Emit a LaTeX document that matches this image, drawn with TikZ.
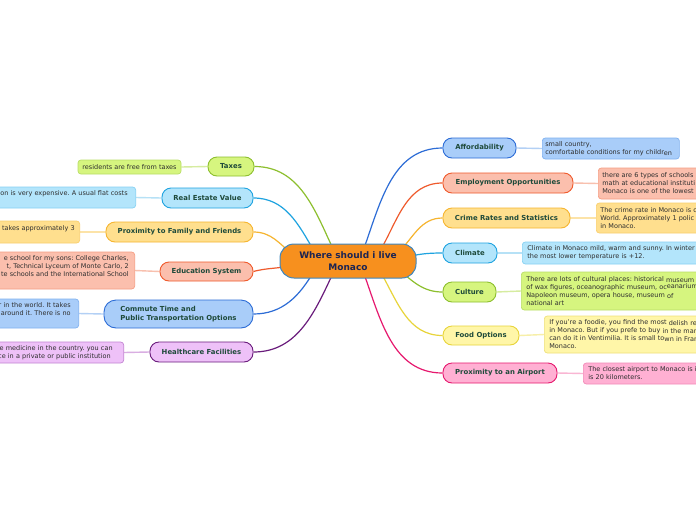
\documentclass[tikz,border=0pt]{standalone}
\usepackage{fontspec}
\setmainfont{DejaVu Sans}
\usetikzlibrary{backgrounds,calc}
\frenchspacing
\definecolor{topictext}{HTML}{1E4A3A}
\definecolor{dettext}{HTML}{2E2E2E}
\definecolor{navy}{HTML}{1C2452}
\definecolor{cFill}{HTML}{F7901E}
\definecolor{cLine}{HTML}{3E86BE}
\definecolor{gFill}{HTML}{D6F57F}
\definecolor{gLine}{HTML}{8DBF2E}
\definecolor{gPale}{HTML}{B9DE66}
\definecolor{gLink}{HTML}{D6ECA0}
\definecolor{lbFill}{HTML}{B3E5FB}
\definecolor{lbLine}{HTML}{1EA3E0}
\definecolor{lbPale}{HTML}{86D1F3}
\definecolor{lbLink}{HTML}{B6E1F6}
\definecolor{yFill}{HTML}{FFDF8E}
\definecolor{yLine}{HTML}{F6B530}
\definecolor{yPale}{HTML}{F9CF6E}
\definecolor{yLink}{HTML}{FCE3A8}
\definecolor{sFill}{HTML}{FBBFAD}
\definecolor{sLine}{HTML}{EF5A2C}
\definecolor{sPale}{HTML}{F59E84}
\definecolor{sLink}{HTML}{F8C0AE}
\definecolor{bFill}{HTML}{A9CDF9}
\definecolor{bLine}{HTML}{2C6CD6}
\definecolor{bPale}{HTML}{7FB1F0}
\definecolor{bLink}{HTML}{B3D0F5}
\definecolor{pFill}{HTML}{EEC1F8}
\definecolor{pLine}{HTML}{6A1C7C}
\definecolor{pPale}{HTML}{C283D2}
\definecolor{pLink}{HTML}{D9AEE2}
\definecolor{fyFill}{HTML}{FFF6A8}
\definecolor{fyLine}{HTML}{E8D43A}
\definecolor{fyPale}{HTML}{EEE07A}
\definecolor{fyLink}{HTML}{F7EFA8}
\definecolor{kFill}{HTML}{FFB0D3}
\definecolor{kLine}{HTML}{E6186E}
\definecolor{kPale}{HTML}{F28AB8}
\definecolor{kLink}{HTML}{F9B6D3}
\begin{document}
\begin{tikzpicture}[x=1pt,y=1pt,
 topic/.style={draw, line width=0.9pt, rounded corners=9pt, inner sep=0pt, align=center, text=topictext, font=\fontsize{6.9}{8.3}\selectfont\bfseries},
 detail/.style={draw, line width=0.7pt, rounded corners=3pt, inner ysep=0pt, text=dettext, font=\fontsize{6.5}{8}\selectfont},
 ldet/.style={detail, anchor=east, align=right, text width=240pt},
 rdet/.style={detail, anchor=west, align=left, text width=240pt},
 link/.style={line width=1.2pt},
 sub/.style={line width=1.4pt}]
\useasboundingbox (0,0) rectangle (696,-520);
\clip (0,0) rectangle (696,-520);
% centre
\node[draw=cLine, fill=cFill, line width=1pt, rounded corners=14pt, minimum width=136pt, minimum height=34pt, inner sep=0pt, align=center, text=navy, font=\fontsize{9}{11.5}\selectfont\bfseries] (c) at (348,-261) {Where should i live\\Monaco};
% left topics
\node[topic, fill=gFill, draw=gLine, minimum width=46pt, minimum height=19pt] (taxes) at (231,-166.5) {Taxes};
\node[topic, fill=lbFill, draw=lbLine, minimum width=91pt, minimum height=20pt] (real) at (207.5,-198) {Real Estate Value};
\node[topic, fill=yFill, draw=yLine, minimum width=147pt, minimum height=20pt] (prox) at (179.5,-232) {Proximity to Family and Friends};
\node[topic, fill=sFill, draw=sLine, minimum width=93pt, minimum height=19pt] (edu) at (206.5,-271.5) {Education System};
\node[topic, fill=bFill, draw=bLine, rounded corners=12pt, align=left, minimum width=149pt, minimum height=28pt] (comm) at (178.5,-314) {Commute Time and\\Public Transportation Options};
\node[topic, fill=pFill, draw=pLine, minimum width=103pt, minimum height=20pt] (health) at (201.5,-352) {Healthcare Facilities};
% right topics
\node[topic, fill=bFill, draw=bLine, minimum width=73pt, minimum height=20pt] (aff) at (479.5,-148) {Affordability};
\node[topic, fill=sFill, draw=sLine, minimum width=130pt, minimum height=20pt] (emp) at (508,-183) {Employment Opportunities};
\node[topic, fill=yFill, draw=yLine, minimum width=127pt, minimum height=20pt] (crime) at (506.5,-218) {Crime Rates and Statistics};
\node[topic, fill=lbFill, draw=lbLine, minimum width=54pt, minimum height=20pt] (clim) at (470,-253) {Climate};
\node[topic, fill=gFill, draw=gLine, minimum width=53pt, minimum height=20pt] (cult) at (469.5,-292) {Culture};
\node[topic, fill=fyFill, draw=fyLine, minimum width=76pt, minimum height=19pt] (food) at (481,-335.5) {Food Options};
\node[topic, fill=kFill, draw=kLine, minimum width=114pt, minimum height=20pt] (air) at (500,-373) {Proximity to an Airport};
% left details
\node[detail, fill=gFill, draw=gPale, minimum width=103pt, minimum height=14pt, inner xsep=0pt] (dtaxes) at (129.5,-167) {residents are free from taxes};
\node[ldet, fill=lbFill, draw=lbPale, inner xsep=8pt, minimum height=21pt] (dreal) at (136,-197.5) {on is very expensive. A usual flat costs\\\mbox{}};
\node[ldet, fill=yFill, draw=yPale, inner xsep=5pt, minimum height=22pt] (dprox) at (80,-232) {takes approximately 3\\\mbox{}};
\node[ldet, fill=sFill, draw=sPale, inner xsep=6pt, minimum height=37pt] (dedu) at (135,-270.5) {e school for my sons: College Charles,\hspace*{4pt}\\t, Technical Lyceum of Monte Carlo, 2\hspace*{6pt}\\te schools and the International School\\\mbox{}};
\node[ldet, fill=bFill, draw=bPale, inner xsep=8pt, minimum height=29pt] (dcomm) at (79,-313.5) {r in the world. It takes\\around it. There is no\hspace*{3pt}\\\mbox{}};
\node[ldet, fill=pFill, draw=pPale, inner xsep=11pt, minimum height=21pt] (dhealth) at (124,-352.5) {ce medicine in the country. you can\\ce in a private or public institution\hspace*{2pt}};
% right details
\node[detail, fill=bFill, draw=bPale, anchor=west, align=left, text width=131pt, inner xsep=3pt, minimum height=21pt] (daff) at (542,-148.5) {small country,\\comfortable conditions for my childr\raisebox{-1.2pt}{en}};
\node[rdet, fill=sFill, draw=sPale, inner xsep=4pt, minimum height=31pt] (demp) at (598,-183.5) {there are 6 types of schools\\math at educational instituti\\Monaco is one of the lowest};
\node[rdet, fill=yFill, draw=yPale, inner xsep=4pt, minimum height=30pt] (dcrime) at (596,-218) {The crime rate in Monaco is c\\World. Approximately 1 polic\\in Monaco.};
\node[rdet, fill=lbFill, draw=lbPale, inner xsep=5pt, minimum height=22pt] (dclim) at (522,-253) {Climate in Monaco mild, warm and sunny. In winter\\the most lower temperature is +12.};
\node[rdet, fill=gFill, draw=gPale, inner xsep=5pt, minimum height=38pt] (dcult) at (521,-291) {There are lots of cultural places: historical \raisebox{-1pt}{museum}\\of wax figures, oceanographic museum, oc\raisebox{0.7pt}{eanarium}\\Napoleon museum, opera house, museum \raisebox{-1.3pt}{of}\\national art};
\node[rdet, fill=fyFill, draw=fyPale, inner xsep=5pt, minimum height=37pt] (dfood) at (544,-334.5) {If you're a foodie, you find the most\raisebox{-0.8pt}{ delish re}\\in Monaco. But if you prefe to buy\raisebox{-0.8pt}{ in the mar}\\can do it in Ventimilia. It is small to\raisebox{-0.8pt}{wn in Fran}\\Monaco.};
\node[rdet, fill=kFill, draw=kPale, inner xsep=5pt, minimum height=21pt] (dair) at (583,-373.5) {The closest airport to Monaco is i\\is 20 kilometers.};
% connectors
\begin{scope}[on background layer]
\fill[white] (0,0) rectangle (696,-520);
\draw[link, gLine] ($(c.center)+(-14,10)$) to[out=115,in=0] (taxes.east);
\draw[link, lbLine] ($(c.center)+(-34,10)$) to[out=120,in=0] (real.east);
\draw[link, yLine] ($(c.center)+(-55,6)$) to[out=140,in=0] (prox.east);
\draw[link, sLine] ($(c.center)+(-55,-4)$) to[out=195,in=15] (edu.east);
\draw[link, bLine] ($(c.center)+(-34,-10)$) to[out=240,in=0] (comm.east);
\draw[link, pLine] ($(c.center)+(-14,-10)$) to[out=245,in=0] (health.east);
\draw[link, bLine] ($(c.center)+(15,10)$) to[out=70,in=180] (aff.west);
\draw[link, sLine] ($(c.center)+(32,10)$) to[out=60,in=180] (emp.west);
\draw[link, yLine] ($(c.center)+(50,8)$) to[out=45,in=180] (crime.west);
\draw[link, lbLine] ($(c.center)+(55,3)$) to[out=15,in=180] (clim.west);
\draw[link, gLine] ($(c.center)+(50,-8)$) to[out=-40,in=180] (cult.west);
\draw[link, fyLine] ($(c.center)+(32,-10)$) to[out=-60,in=180] (food.west);
\draw[link, kLine] ($(c.center)+(15,-10)$) to[out=-70,in=180] (air.west);
\draw[sub, gLink] (taxes.west) -- (dtaxes.east);
\draw[sub, lbLink] (real.west) -- (dreal.east);
\draw[sub, yLink] (prox.west) -- (dprox.east);
\draw[sub, sLink] (edu.west) -- (dedu.east);
\draw[sub, bLink] (comm.west) -- (dcomm.east);
\draw[sub, pLink] (health.west) -- (dhealth.east);
\draw[sub, bLink] (aff.east) -- (daff.west);
\draw[sub, sLink] (emp.east) -- (demp.west);
\draw[sub, yLink] (crime.east) -- (dcrime.west);
\draw[sub, lbLink] (clim.east) -- (dclim.west);
\draw[sub, gLink] (cult.east) -- (dcult.west);
\draw[sub, fyLink] (food.east) -- (dfood.west);
\draw[sub, kLink] (air.east) -- (dair.west);
\end{scope}
\end{tikzpicture}
\end{document}
